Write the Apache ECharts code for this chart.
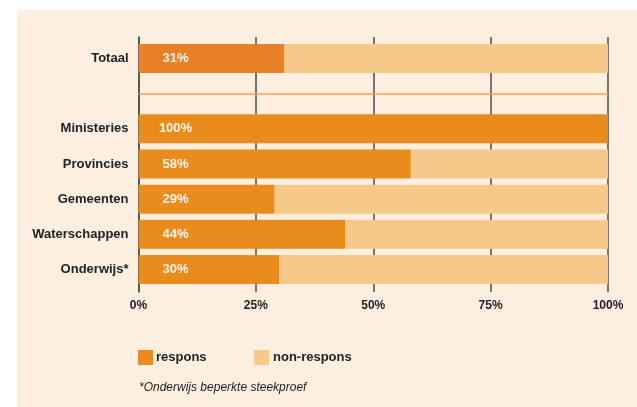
<!DOCTYPE html>
<html><head><meta charset="utf-8">
<script src="https://cdn.jsdelivr.net/npm/echarts@6/dist/echarts.min.js"></script>
<style>html,body{margin:0;padding:0;background:#fff}#c{width:637px;height:407px}</style>
</head><body><div id="c"></div>
<script>
const categories = ['Totaal', '', 'Ministeries', 'Provincies', 'Gemeenten', 'Waterschappen', 'Onderwijs*'];
const respons = [31, null, 100, 58, 29, 44, 30];
const nonRespons = [69, null, 0, 42, 71, 56, 70];
const xTicks = [0, 25, 50, 75, 100];
const legendNames = ['respons', 'non-respons'];
const footnote = '*Onderwijs beperkte steekproef';

const C_RESP = '#E98B1D', C_TOT = '#E88027', C_NON = '#F6C98A', C_BG = '#FDEFE0';
const chart = echarts.init(document.getElementById('c'));
const font = 'Liberation Sans, Arial, sans-serif';

chart.setOption({
  backgroundColor: '#ffffff',
  animation: false,
  graphic: [
    {type: 'rect', shape: {x: 17, y: 10, width: 620, height: 397}, style: {fill: C_BG}, z: -10, silent: true},
    {type: 'text', left: 139, top: 382, style: {text: footnote, font: 'italic 12px ' + font, fill: '#222'}}
  ],
  legend: [
    {data: [legendNames[0]], left: 138, top: 350, padding: 0, itemWidth: 15, itemHeight: 15, icon: 'rect',
     textStyle: {fontFamily: font, fontWeight: 'bold', fontSize: 13, color: '#222', padding: [0, 0, 0, -2]}},
    {data: [legendNames[1]], left: 254, top: 350, padding: 0, itemWidth: 15, itemHeight: 15, icon: 'rect',
     textStyle: {fontFamily: font, fontWeight: 'bold', fontSize: 13, color: '#222', padding: [0, 0, 0, -1]}}
  ],
  grid: [
    {left: 138.5, right: 29, top: 41, bottom: 120},
    {left: 138.5, right: 29, top: 37, bottom: 115}
  ],
  xAxis: [
    {gridIndex: 0, type: 'value', min: 0, max: 100, interval: 25, show: false},
    {gridIndex: 1, type: 'value', min: 0, max: 100, interval: 25,
     axisLine: {show: false}, axisTick: {show: false},
     splitLine: {show: true, lineStyle: {color: '#4a4a4a', width: 1.5}},
     axisLabel: {formatter: v => xTicks.includes(v) ? v + '%' : '', margin: 8, fontFamily: font, fontWeight: 'bold', fontSize: 12, color: '#222'}}
  ],
  yAxis: [
    {gridIndex: 0, type: 'category', data: categories, inverse: true,
     axisLine: {show: false}, axisTick: {show: false},
     axisLabel: {margin: 10, fontFamily: font, fontWeight: 'bold', fontSize: 13, color: '#222', padding: [3, 0, 0, 0]}},
    {gridIndex: 1, type: 'category', data: categories, inverse: true, show: true,
     axisLine: {show: true, lineStyle: {color: '#5a4a42', width: 1.5}}, axisTick: {show: false}, axisLabel: {show: false}}
  ],
  series: [
    {name: legendNames[0], type: 'bar', stack: 's', xAxisIndex: 0, yAxisIndex: 0, barWidth: 29,
     data: respons.map((v, i) => i === 0 ? {value: v, itemStyle: {color: C_TOT}} : v),
     itemStyle: {color: C_RESP},
     label: {show: true, position: [37, '50%'], align: 'center', verticalAlign: 'middle', padding: [2, 0, 0, 0],
       formatter: p => p.value + '%', fontFamily: font, fontWeight: 'bold', fontSize: 13, color: '#FFF4E8'},
     markLine: {symbol: 'none', silent: true, label: {show: false},
       lineStyle: {color: '#F3A54C', width: 1.5, type: 'solid'}, data: [{yAxis: 1}]}},
    {name: legendNames[1], type: 'bar', stack: 's', xAxisIndex: 0, yAxisIndex: 0, barWidth: 29,
     data: nonRespons, itemStyle: {color: C_NON}}
  ]
});
</script></body></html>
